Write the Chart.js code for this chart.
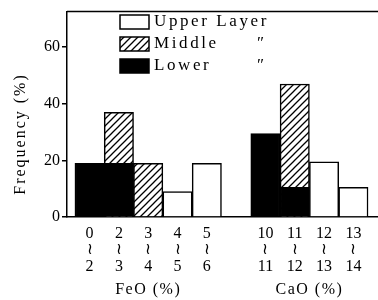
<!DOCTYPE html>
<html>
<head>
<meta charset="utf-8">
<script src="https://cdn.jsdelivr.net/npm/chart.js@4/dist/chart.umd.min.js"></script>
<style>
  html, body { margin: 0; padding: 0; background: #fff; }
  canvas { display: block; }
</style>
</head>
<body>
<canvas id="chart" width="378" height="300"></canvas>
<script>
// bins of the histogram (null = gap between the two groups)
const categories = [
  ["0", "≀", "2"], ["2", "≀", "3"], ["3", "≀", "4"], ["4", "≀", "5"], ["5", "≀", "6"],
  null,
  ["10", "≀", "11"], ["11", "≀", "12"], ["12", "≀", "13"], ["13", "≀", "14"]
];
const upperLayer = [null, null, null, 9, 19, null, null, null, 19.5, 10.5];
const middleLayer = [null, 37, 19, null, null, null, null, 47, null, null];
const lowerLayer = [19, 19, null, null, null, null, 29.5, 10.5, null, null];
const yTicks = [0, 20, 40, 60];
const groupTitles = ["FeO (%)", "CaO (%)"];
const groupRanges = [[0, 4], [6, 9]];
const legendLabels = ["Upper Layer", "Middle", "Lower"];

const canvas = document.getElementById("chart");
const ctx = canvas.getContext("2d");
const serif = "'Liberation Serif', 'DejaVu Serif', serif";

function makeHatch() {
  const size = 7;
  const c = document.createElement("canvas");
  c.width = size;
  c.height = size;
  const g = c.getContext("2d");
  g.fillStyle = "#fff";
  g.fillRect(0, 0, size, size);
  g.strokeStyle = "#000";
  g.lineWidth = 1.3;
  g.beginPath();
  g.moveTo(0, size); g.lineTo(size, 0);
  g.moveTo(-1, 1); g.lineTo(1, -1);
  g.moveTo(size - 1, size + 1); g.lineTo(size + 1, size - 1);
  g.stroke();
  return ctx.createPattern(c, "repeat");
}
const hatch = makeHatch();
const fills = ["#fff", hatch, "#000"];

const toPoints = arr => arr.map((v, i) => ({ x: i + 0.5, y: v }));

// top frame line, titles and the legend inside the plot
const decorations = {
  id: "decorations",
  afterDraw(chart) {
    const { ctx, chartArea } = chart;
    const xs = chart.scales.x;
    ctx.save();
    ctx.strokeStyle = "#000";
    ctx.lineWidth = 1.5;
    ctx.beginPath();
    ctx.moveTo(chartArea.left, chartArea.top);
    ctx.lineTo(chartArea.right, chartArea.top);
    ctx.stroke();

    ctx.fillStyle = "#000";
    ctx.textBaseline = "middle";

    // y title
    ctx.save();
    ctx.translate(21, 134);
    ctx.rotate(-Math.PI / 2);
    ctx.textAlign = "center";
    ctx.font = "16px " + serif;
    ctx.letterSpacing = "2px";
    ctx.fillText("Frequency (%)", 0, 0);
    ctx.restore();

    // group titles
    ctx.textAlign = "center";
    ctx.font = "16px " + serif;
    ctx.letterSpacing = "1.5px";
    groupTitles.forEach((t, i) => {
      const [a, b] = groupRanges[i];
      const cx = (xs.getPixelForValue(a + 0.5) + xs.getPixelForValue(b + 0.5)) / 2;
      ctx.fillText(t, cx, 290);
    });

    // legend
    ctx.textAlign = "left";
    ctx.font = "17px " + serif;
    ctx.letterSpacing = "2.6px";
    legendLabels.forEach((label, i) => {
      const cy = 22 + i * 22;
      ctx.fillStyle = fills[i];
      ctx.fillRect(120, cy - 7, 29, 14);
      ctx.strokeRect(120, cy - 7, 29, 14);
      ctx.fillStyle = "#000";
      ctx.fillText(label, 154, cy);
      if (i > 0) ctx.fillText("″", 257, cy);
    });
    ctx.restore();
  }
};

const barStyle = {
  borderColor: "#000",
  borderWidth: 1.5,
  grouped: false,
  barPercentage: 1,
  categoryPercentage: 1
};

new Chart(ctx, {
  type: "bar",
  data: {
    datasets: [
      { label: "Lower", data: toPoints(lowerLayer), backgroundColor: "#000", ...barStyle },
      { label: "Middle", data: toPoints(middleLayer), backgroundColor: hatch, ...barStyle },
      { label: "Upper Layer", data: toPoints(upperLayer), backgroundColor: "#fff", ...barStyle }
    ]
  },
  options: {
    responsive: false,
    animation: false,
    layout: { padding: { top: 10, left: 0, right: 0, bottom: 0 } },
    plugins: {
      legend: { display: false },
      tooltip: { enabled: false }
    },
    scales: {
      x: {
        type: "linear",
        offset: false,
        min: -0.27,
        max: 10.34,
        afterBuildTicks: scale => {
          scale.ticks = categories
            .map((c, i) => (c ? { value: i + 0.5 } : null))
            .filter(Boolean);
        },
        afterFit: scale => { scale.height = 83; },
        grid: { display: false, offset: false },
        border: { display: true, color: "#000", width: 1.5 },
        ticks: {
          autoSkip: false,
          maxRotation: 0,
          padding: 0,
          color: "#000",
          font: { family: serif, size: 16, lineHeight: 1.05 },
          callback: v => categories[Math.floor(v)] || ""
        }
      },
      y: {
        min: 0,
        max: 72.6,
        afterBuildTicks: scale => {
          scale.ticks = yTicks.map(v => ({ value: v }));
        },
        afterFit: scale => { scale.width = 67; },
        grid: { drawOnChartArea: false, drawTicks: true, tickLength: 5, color: "#000", lineWidth: 1.5 },
        border: { display: true, color: "#000", width: 1.5 },
        ticks: {
          padding: 2,
          color: "#000",
          font: { family: serif, size: 16 }
        }
      }
    }
  },
  plugins: [decorations]
});
</script>
</body>
</html>
